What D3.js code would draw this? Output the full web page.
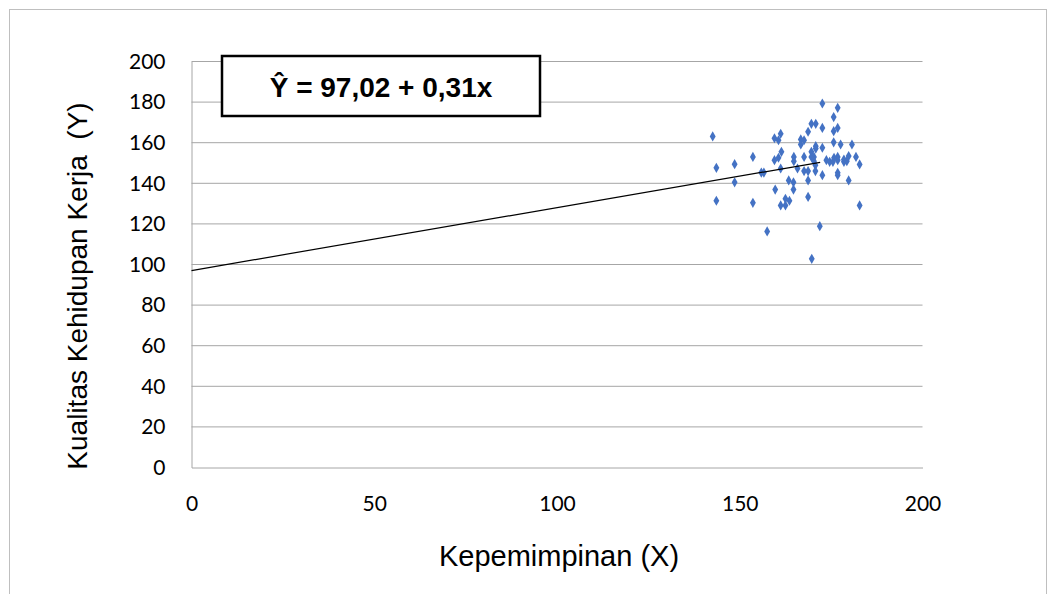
<!DOCTYPE html>
<html><head><meta charset="utf-8">
<script src="https://cdn.jsdelivr.net/npm/d3@7"></script>
<style>body{margin:0;background:#fff}</style>
</head><body>
<svg id="c" width="1055" height="594"></svg>
<script>
const xVals = [142.6,159.5,160.6,161.2,153.6,148.6,143.6,159.5,160.6,155.9,156.6,148.6,161.2,172.6,176.8,175.7,176.8,175.7,169.6,170.8,172.6,168.7,166.7,167.6,166.7,170.8,175.7,177.6,180.7,172.6,161.4,169.6,170.8,164.8,167.6,169.6,170.3,164.8,170.3,173.7,174.6,175.5,176.8,176.8,175.8,178.5,179.8,179.3,181.8,182.8,178.5,165.8,167.6,168.7,170.7,170.7,172.6,176.8,176.8,168.7,163.4,164.7,179.8,159.7,143.6,153.6,161.2,157.5,164.7,168.7,162.5,163.6,162.5,182.8,171.9,169.7];
const yVals = [163.1,162.2,161.2,164.4,153,149.4,147.6,151.4,152.6,145.3,145.3,140.5,147.3,179.3,177.2,172.6,167.3,165.7,169.3,169.3,167.3,165.4,161.6,161.2,159.1,158.3,160.2,159.1,159.1,157.5,155.5,155.5,157.1,153,153,153,153,150.9,150.9,151.4,150.6,150.6,153,151.4,152.6,150.6,153.4,150.9,153,149.3,151.7,147.3,146,146,148.9,146,144,145.2,144,141.4,141.4,140.5,141.4,136.9,131.4,130.4,129.1,116.3,136.9,133.3,132.4,131.4,129.1,129.1,118.9,102.8];
const xTicks = [0,50,100,150,200];
const yTicks = [0,20,40,60,80,100,120,140,160,180,200];
const intercept = 97.02, slope = 0.31;
const lineRange = [0, 172];
const equation = "Ŷ = 97,02 + 0,31x";
const xTitle = "Kepemimpinan (X)";
const yTitle = "Kualitas Kehidupan Kerja  (Y)";

const svg = d3.select("#c");
svg.append("rect").attr("x",9.5).attr("y",9.5).attr("width",1037).attr("height",620)
  .attr("fill","#fff").attr("stroke","#bfbfbf").attr("stroke-width",1);

const x = d3.scaleLinear().domain([0,200]).range([191.5,922.5]);
const y = d3.scaleLinear().domain([0,200]).range([467.5,61.5]);

svg.append("g").selectAll("line").data(yTicks.filter(d=>d>0)).join("line")
  .attr("x1",x(0)).attr("x2",x(200)).attr("y1",d=>y(d)).attr("y2",d=>y(d))
  .attr("stroke","#a6a6a6").attr("stroke-width",1);

const xAxis = svg.append("g").attr("transform",`translate(0,${y(0)})`)
  .call(d3.axisBottom(x).tickValues(xTicks).tickSize(0).tickPadding(29));
const yAxis = svg.append("g").attr("transform",`translate(${x(0)},0)`)
  .call(d3.axisLeft(y).tickValues(yTicks).tickSize(0).tickPadding(26));
[xAxis,yAxis].forEach(a=>{
  a.select(".domain").attr("stroke","#a6a6a6");
  a.selectAll("text").attr("font-family","Lato, 'Liberation Sans', sans-serif").attr("font-size",21).attr("fill","#000");
});

svg.append("g").selectAll("path").data(xVals.map((v,i)=>[v,yVals[i]])).join("path")
  .attr("d", d3.symbol(d3.symbolDiamond, 30))
  .attr("transform",d=>`translate(${x(d[0])},${y(d[1])})`)
  .attr("fill","#4472C4");

svg.append("line")
  .attr("x1",x(lineRange[0])).attr("y1",y(intercept+slope*lineRange[0]))
  .attr("x2",x(lineRange[1])).attr("y2",y(intercept+slope*lineRange[1]))
  .attr("stroke","#000").attr("stroke-width",1.2);

svg.append("rect").attr("x",222).attr("y",56).attr("width",318).attr("height",60)
  .attr("fill","#fff").attr("stroke","#000").attr("stroke-width",2.5);
svg.append("text").attr("x",381).attr("y",97).attr("text-anchor","middle")
  .attr("font-family","'Liberation Sans', Arial, sans-serif").attr("font-weight","bold").attr("font-size",28)
  .text(equation);

svg.append("text").attr("x",559).attr("y",566).attr("text-anchor","middle")
  .attr("font-family","'Liberation Sans', Arial, sans-serif").attr("font-size",29).text(xTitle);
svg.append("text").attr("transform","translate(87,286) rotate(-90)").attr("text-anchor","middle")
  .attr("font-family","'Liberation Sans', Arial, sans-serif").attr("font-size",28).attr("xml:space","preserve").style("white-space","pre").text(yTitle);
</script>
</body></html>
